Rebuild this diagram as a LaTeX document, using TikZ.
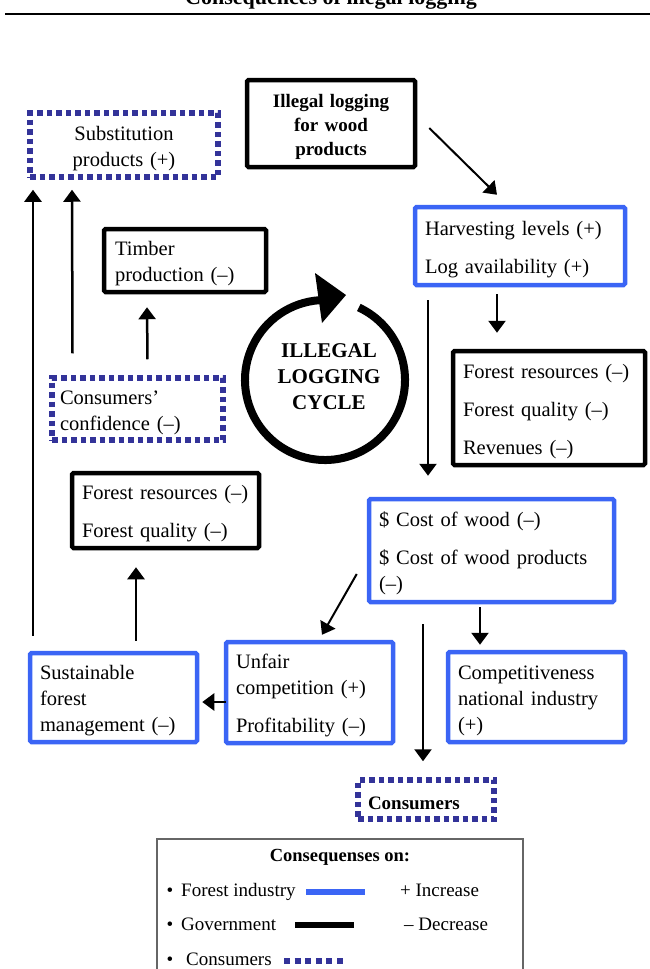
\documentclass[tikz,border=0pt]{standalone}
\usepackage{fontspec}
\setmainfont{Liberation Serif}
\usetikzlibrary{arrows.meta}
\definecolor{fiblue}{RGB}{59,101,245}
\definecolor{cblue}{RGB}{51,51,153}
\begin{document}
\begin{tikzpicture}[x=1pt,y=-1pt,
  box/.style={rectangle, line width=4.5pt, inner xsep=10pt, inner ysep=0pt, align=left,
    font=\fontsize{20.5}{26}\selectfont, execute at begin node={\rule{0pt}{21pt}}},
  gov/.style={box, draw=black, rounded corners=1.5pt},
  ind/.style={box, draw=fiblue, rounded corners=1.5pt},
  con/.style={box, draw=cblue, line width=5.5pt, dash pattern=on 5.5pt off 4pt},
  arr/.style={line width=2.5pt, -{Triangle[length=12pt,width=17pt]}},
  lfont/.style={font=\fontsize{19}{22}\selectfont},
]
\path[use as bounding box] (0,0) rectangle (650,969);
\clip (0,0) rectangle (650,969);

% title
\node[font=\bfseries\fontsize{22}{24}\selectfont, anchor=base] (title) at (331,5) {Consequences of illegal logging};
\draw[line width=2.5pt] (5,14) -- (650,14);

% boxes
\node[gov, minimum width=168pt, minimum height=87pt, text width=148pt, align=center,
  font=\bfseries\fontsize{19}{24}\selectfont] (illegal) at (331,123.5) {Illegal logging\\for wood\\products};
\node[con, minimum width=188pt, minimum height=64pt, text width=168pt, align=center] (subst) at (124,145) {Substitution\\products (+)};
\node[gov, minimum width=162pt, minimum height=63pt, text width=140pt, inner xsep=11pt] (timber) at (185,260.5) {Timber\\production (–)};
\node[ind, minimum width=210pt, minimum height=78pt, text width=190pt] (harv) at (520,246) {Harvesting levels (+)\\[12pt]Log availability (+)};
\node[gov, minimum width=192pt, minimum height=114pt, text width=172pt] (forR) at (549,408) {Forest resources (–)\\[12pt]Forest quality (–)\\[12pt]Revenues (–)};
\node[con, minimum width=171pt, minimum height=62pt, text width=155pt, inner xsep=8pt] (conf) at (137.5,409) {Consumers’\\confidence (–)};
\node[gov, minimum width=187pt, minimum height=75pt, text width=167pt] (forL) at (165.5,510.5) {Forest resources (–)\\[12pt]Forest quality (–)};
\node[ind, minimum width=245pt, minimum height=103pt, text width=225pt] (cost) at (491.5,550.5) {\$ Cost of wood (–)\\[12pt]\$ Cost of wood products\\(–)};
\node[ind, minimum width=167pt, minimum height=101pt, text width=147pt] (unfair) at (309.5,692.5) {Unfair\\competition (+)\\[12pt]Profitability (–)};
\node[ind, minimum width=167pt, minimum height=89pt, text width=147pt] (sust) at (113.5,697.5) {Sustainable\\forest\\management (–)};
\node[ind, minimum width=177pt, minimum height=90pt, text width=157pt] (comp) at (536.5,697) {Competitiveness\\national industry\\(+)};
\node[con, minimum width=136pt, minimum height=39pt, text width=116pt,
  font=\bfseries\fontsize{19}{24}\selectfont] (cons) at (426,799.5) {Consumers};

% cycle
\draw[line width=8pt] (325,380) ++(65:80pt) arc[start angle=65, end angle=-266, radius=80pt];
\fill (315,273) -- (346,295) -- (322,323) -- cycle;
\node[font=\bfseries\fontsize{21}{26}\selectfont, align=center] (cyc) at (329,377) {ILLEGAL\\LOGGING\\CYCLE};

% connectors
\draw[arr, line width=2pt] ([xshift=12pt,yshift=-4.5pt]illegal.east) -- ([xshift=-23pt,yshift=10pt]harv.north);
\draw[arr] ([xshift=-23pt,yshift=-7pt]harv.south) -- ([xshift=-52pt,yshift=16pt]forR.north);
\draw[arr] ([xshift=-92pt,yshift=-13pt]harv.south) -- ([xshift=-63.5pt,yshift=21pt]cost.north);
\draw[arr] ([xshift=-11.5pt,yshift=-3pt]cost.south) -- ([xshift=-56.5pt,yshift=5pt]comp.north);
\draw[arr] ([xshift=-68.5pt,yshift=-20pt]cost.south) -- ([xshift=-3pt,yshift=16pt]cons.north);
\draw[arr, line width=2pt] ([xshift=-10pt,yshift=-23.5pt]cost.west) -- ([xshift=12.5pt,yshift=5pt]unfair.north);
\draw[arr] ([xshift=2pt,yshift=-9.5pt]unfair.west) -- ([xshift=3pt,yshift=-4.5pt]sust.east);
\draw[arr] ([xshift=22.5pt,yshift=10pt]sust.north) -- ([xshift=-29.5pt,yshift=-17pt]forL.south);
\draw[arr] ([xshift=10pt,yshift=16pt]conf.north) -- ([xshift=-38pt,yshift=-13pt]timber.south);
\draw[arr] ([xshift=-65pt,yshift=22pt]conf.north) -- ([xshift=-52pt,yshift=-10pt]subst.south);
\draw[arr] ([xshift=-80.5pt,yshift=15pt]sust.north) -- ([xshift=-91pt,yshift=-10pt]subst.south);

% legend
\node[draw=black!60, line width=1.5pt, minimum width=366pt, minimum height=150pt, inner sep=0pt] (legend) at (340,914) {};
\node[anchor=base, font=\bfseries\fontsize{18.5}{22}\selectfont] (lt) at (340,861) {Consequenses on:};
\node[anchor=base, lfont] (b1) at (170,896) {\textbullet};
\node[anchor=base west, lfont, inner xsep=0pt] (l1) at (181,896) {Forest industry};
\draw[fiblue, line width=6pt] (306,892) -- (365,892);
\node[anchor=base west, lfont, inner xsep=0pt] (inc) at (400,896) {+ Increase};
\node[anchor=base, lfont] (b2) at (170,930) {\textbullet};
\node[anchor=base west, lfont, inner xsep=0pt] (l2) at (181,930) {Government};
\draw[black, line width=6pt] (295,925) -- (354,925);
\node[anchor=base west, lfont, inner xsep=0pt] (dec) at (404,930) {– Decrease};
\node[anchor=base, lfont] (b3) at (170,965) {\textbullet};
\node[anchor=base west, lfont, inner xsep=0pt] (l3) at (186,965) {Consumers};
\draw[cblue, line width=6pt, dash pattern=on 6pt off 4.6pt] (284,961) -- (343,961);
\end{tikzpicture}
\end{document}
